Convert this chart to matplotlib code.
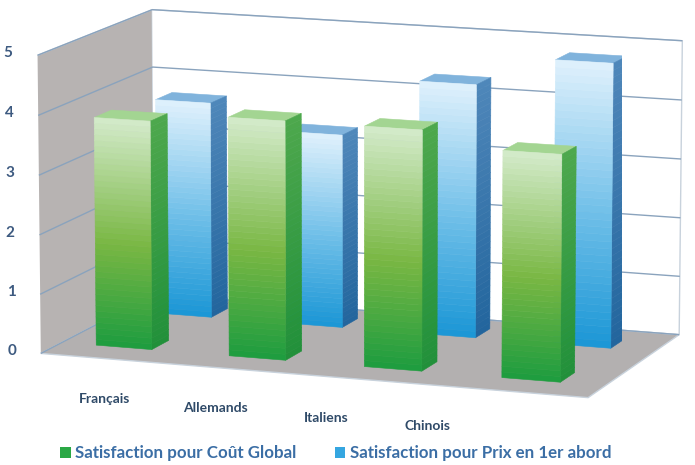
import numpy as np
import matplotlib
matplotlib.use("Agg")
import matplotlib.pyplot as plt
from matplotlib.colors import to_rgb
from matplotlib.patches import Patch
from mpl_toolkits.mplot3d.art3d import Poly3DCollection

categories = ["Français", "Allemands", "Italiens", "Chinois"]
cout_global = [3.85, 4.0, 4.0, 3.75]
prix_abord = [3.7, 3.3, 4.3, 4.8]
series_names = ["Satisfaction pour Coût Global", "Satisfaction pour Prix en 1er abord"]
z_ticks = [0, 1, 2, 3, 4, 5]

N_SEG = 40
BAR_W = 0.42
BAR_D = 0.15
X_MIN, X_MAX = -0.5, 3.5
Y_MIN, Y_MAX = 0.0, 1.0
ROWS = [0.18, 0.72]   # depth of the two series rows

# gradient stops (bottom -> mid -> top) for front face, plus side/top colours
GREEN = dict(front=["#1c9c3f", "#79b743", "#d4ebcb"], side=["#21903a", "#4ea84d"], top="#a3d592")
BLUE = dict(front=["#1a96d5", "#6bbde8", "#e0f1fc"], side=["#22659d", "#4f87ba"], top="#80b3dc")


def lerp(stops, f):
    c = [np.array(to_rgb(s)) for s in stops]
    if len(c) == 2:
        return tuple(c[0] + (c[1] - c[0]) * f)
    if f < 0.45:
        return tuple(c[0] + (c[1] - c[0]) * (f / 0.45))
    return tuple(c[1] + (c[2] - c[1]) * ((f - 0.45) / 0.55))


def draw_bar(ax, xc, y0, h, pal):
    x0, x1, y1 = xc - BAR_W / 2, xc + BAR_W / 2, y0 + BAR_D
    polys, cols = [], []
    for k in range(N_SEG):
        za, zb = h * k / N_SEG, h * (k + 1) / N_SEG
        f = (k + 0.5) / N_SEG
        polys.append([(x0, y0, za), (x1, y0, za), (x1, y0, zb), (x0, y0, zb)])
        cols.append(lerp(pal["front"], f))
        polys.append([(x1, y0, za), (x1, y1, za), (x1, y1, zb), (x1, y0, zb)])
        cols.append(lerp(pal["side"], f))
    polys.append([(x0, y0, h), (x1, y0, h), (x1, y1, h), (x0, y1, h)])
    cols.append(to_rgb(pal["top"]))
    ax.add_collection3d(Poly3DCollection(polys, facecolors=cols, edgecolors=cols,
                                         linewidths=0.4))


fig = plt.figure(figsize=(6.95, 4.65), dpi=100)
fig.patch.set_facecolor("white")
ax = fig.add_axes([0.011, -0.012, 1.0, 1.147], projection="3d")
ax.computed_zorder = False
ax.set_proj_type("persp", focal_length=2.0)
ax.view_init(elev=11, azim=-70)

ax.set_xlim(X_MIN, X_MAX)
ax.set_ylim(Y_MIN, Y_MAX)
ax.set_zlim(0, 5)
ax.set_box_aspect((1.9, 1.0, 1.0), zoom=1.3)

xs = np.arange(len(categories)) - 0.03
# back row first, then the front row, so the painter's order is right
for xc, v in zip(xs, prix_abord):
    draw_bar(ax, xc, ROWS[1], v, BLUE)
for xc, v in zip(xs, cout_global):
    draw_bar(ax, xc, ROWS[0], v, GREEN)

ax.set_xticks([])
ax.set_yticks([])
ax.set_zticks(z_ticks)
for tick in ax.zaxis.get_major_ticks():
    tick.label1.set_visible(False)
for axis in (ax.xaxis, ax.yaxis, ax.zaxis):
    axis.label.set_visible(False)
    axis.get_offset_text().set_visible(False)

ax.xaxis.set_pane_color(to_rgb("#b7b3b2"))
ax.yaxis.set_pane_color((1, 1, 1))
ax.zaxis.set_pane_color(to_rgb("#b3b0b0"))
for axis in (ax.xaxis, ax.yaxis, ax.zaxis):
    axis.pane.set_edgecolor("#c8d2dc")
    axis.line.set_color((0, 0, 0, 0))
ax.zaxis._axinfo["grid"].update(color="#8aa3bd", linewidth=1.0)
ax.zaxis._axinfo["tick"].update(inward_factor=0, outward_factor=0)

# value axis on the left front edge
ax.plot([X_MIN, X_MIN], [Y_MIN, Y_MIN], [0, 5], color="#a9bccf", lw=1.2)
for z in z_ticks:
    ax.plot([X_MIN - 0.04, X_MIN], [Y_MIN, Y_MIN], [z, z], color="#a9bccf", lw=1.2)
    ax.text(X_MIN - 0.22, Y_MIN, z, str(z), ha="center", va="center",
            fontsize=11, family="Lato", weight="bold", color="#3d5a80")

label_x = [0.46, 1.26, 2.05, 2.76]
for x, name in zip(label_x, categories):
    ax.text(x, Y_MIN - 0.55, 0, name, ha="center", va="center",
            fontsize=10, family="Lato", weight="bold", color="#2f4a68")

handles = [Patch(facecolor="#2aa845", label=series_names[0]),
           Patch(facecolor="#35a6e0", label=series_names[1])]
leg = fig.legend(handles=handles, loc="lower left", ncol=2, frameon=False,
                 bbox_to_anchor=(0.065, -0.025), handlelength=0.6, handleheight=0.6,
                 handletextpad=0.25, columnspacing=2.3,
                 prop=dict(family="Lato", size=12.2, weight="bold"))
for t in leg.get_texts():
    t.set_color("#3b6ea5")

fig.savefig("out.png", dpi=100)
